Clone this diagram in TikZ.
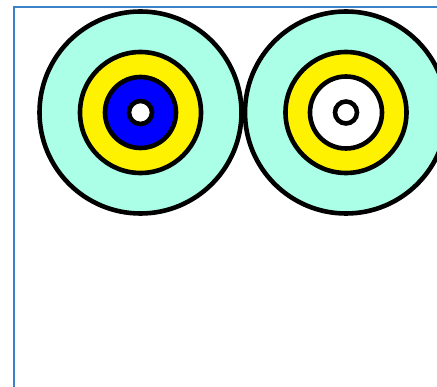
\documentclass[tikz,border=0pt]{standalone}
\begin{document}
\begin{tikzpicture}[x=1pt,y=-1pt,
  ring/.style={draw=black,line width=4.6pt},
  frame/.style={draw=framecol,line width=2.6pt}]
\definecolor{framecol}{RGB}{60,130,200}
\definecolor{aqua}{RGB}{170,255,230}
\useasboundingbox (0,0) rectangle (437,387);
\clip (0,0) rectangle (437,387);
\draw[frame] (14,7) rectangle (460,400);
% left target
\draw[ring,fill=aqua] (140.5,112.5) circle (101);
\draw[ring,fill=yellow] (140.5,112.5) circle (60.5);
\draw[ring,fill=blue] (140.5,112.5) circle (35.5);
\draw[ring,fill=white] (140.5,112.5) circle (11.5);
% right target
\draw[ring,fill=aqua] (346,112.5) circle (101);
\draw[ring,fill=yellow] (346,112.5) circle (60.5);
\draw[ring,fill=white] (346,112.5) circle (36);
\draw[ring,fill=white] (346,112.5) circle (11);
\end{tikzpicture}
\end{document}
